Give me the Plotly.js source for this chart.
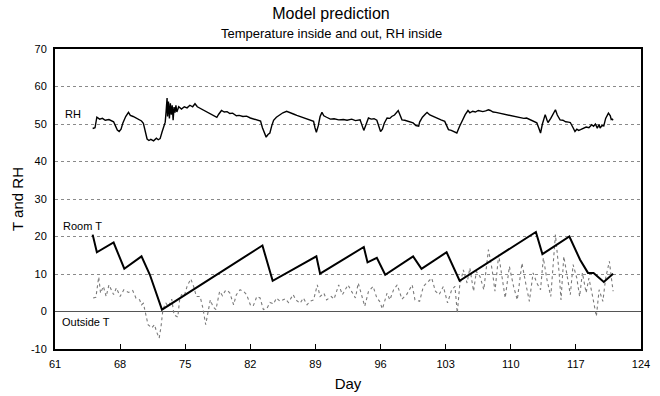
<!DOCTYPE html>
<html>
<head>
<meta charset="utf-8">
<script src="https://cdn.plot.ly/plotly-3.0.1.min.js"></script>
<style>html,body{margin:0;padding:0;background:#fff;}#chart{width:660px;height:396px;}</style>
</head>
<body>
<div id="chart"></div>
<script>
// ---- data ----
const rhDay = [65.05,65.3,65.5,65.8,66.1,66.4,66.8,67.1,67.3,67.5,67.7,67.9,68.1,68.3,68.6,68.9,69.1,69.4,69.7,70.0,70.3,70.5,70.7,70.9,71.1,71.3,71.6,71.9,72.1,72.3,72.5,72.7,72.85,72.95,73.05,73.1,73.2,73.3,73.4,73.5,73.6,73.7,73.8,73.9,74.0,74.1,74.3,74.6,74.9,75.2,75.5,75.8,76.05,76.3,76.6,76.9,77.2,77.5,77.8,78.1,78.4,78.6,78.9,79.2,79.5,79.8,80.1,80.5,80.8,81.2,81.6,82.0,82.4,82.8,83.1,83.3,83.5,83.7,83.9,84.1,84.3,84.5,84.8,85.1,85.5,85.9,86.3,86.7,87.0,87.3,87.7,88.1,88.5,88.8,88.95,89.1,89.3,89.5,89.7,89.9,90.2,90.6,91.0,91.5,92.0,92.4,92.9,93.3,93.8,94.0,94.2,94.4,94.7,95.0,95.3,95.6,95.8,96.0,96.2,96.4,96.7,97.0,97.2,97.5,97.9,98.1,98.3,98.6,99.0,99.5,99.8,100.1,100.2,100.5,100.8,101.0,101.3,101.7,102.1,102.5,102.9,103.1,103.3,103.6,103.9,104.2,104.5,104.8,105.1,105.4,105.6,105.9,106.2,106.5,106.7,107.0,107.3,107.6,107.8,108.1,108.4,108.8,109.2,109.6,110.0,110.3,110.7,111.1,111.4,111.7,112.0,112.4,112.8,113.0,113.2,113.4,113.7,113.9,114.0,114.3,114.6,114.8,115.0,115.3,115.6,115.9,116.2,116.4,116.7,116.9,117.1,117.3,117.5,117.8,118.1,118.4,118.7,118.9,119.1,119.3,119.5,119.6,119.8,120.0,120.2,120.5,120.7,120.8,120.9,121.0];
const rhVal = [48.8,49.0,51.8,51.3,51.5,51.0,51.2,50.9,50.6,49.5,48.4,48.0,48.6,50.3,52.0,53.1,52.3,52.0,51.6,51.2,50.8,50.2,47.6,46.0,45.6,45.9,45.5,46.2,45.8,46.1,47.8,49.5,50.5,53.5,56.9,52.0,56.0,51.5,55.5,52.5,55.0,51.0,54.5,53.0,55.0,53.2,54.6,54.0,54.6,54.3,55.0,54.6,55.4,54.6,54.2,53.6,53.2,52.8,52.4,52.0,51.8,52.6,53.6,53.2,53.3,52.8,52.9,52.2,52.3,52.0,52.1,51.6,51.3,51.0,50.8,49.0,47.6,46.5,47.2,47.6,49.5,51.0,51.8,52.4,53.0,53.4,53.1,52.6,52.3,52.0,51.6,51.4,51.0,50.7,49.0,47.8,49.5,52.0,53.1,52.2,51.8,51.3,51.4,51.1,51.2,51.0,51.3,50.9,51.1,49.8,48.3,49.6,51.6,51.3,51.4,51.0,49.5,48.0,48.6,50.2,51.6,51.5,52.0,52.4,53.6,52.2,51.1,51.0,50.7,50.3,49.6,49.4,50.5,51.8,52.6,53.1,52.4,51.9,51.6,51.1,50.7,49.6,48.5,48.3,48.0,47.6,49.4,51.0,52.5,53.6,53.0,53.4,53.2,53.6,53.4,53.3,53.5,53.8,53.6,53.2,53.1,52.9,52.6,52.5,52.2,52.2,51.9,51.8,51.5,51.6,51.2,50.8,50.3,49.0,47.6,50.0,52.5,51.0,50.4,51.5,52.8,53.8,52.4,51.1,51.0,50.6,50.5,50.4,49.0,48.0,48.6,48.3,48.5,48.8,49.2,49.0,49.8,49.4,50.0,48.9,49.9,48.9,49.6,49.5,51.5,52.9,52.2,51.2,51.3,51.0];

const roomDay = [65.05,65.5,67.3,68.45,70.3,71.2,72.5,83.3,84.4,89.1,89.5,94.2,94.6,95.6,96.5,99.5,100.4,103.1,104.5,112.7,113.4,116.3,117.45,118.3,118.9,120.0,121.0];
const roomVal = [20.5,15.8,18.4,11.4,14.7,9.8,0.5,17.6,8.2,14.7,10.1,17.2,13.1,14.3,9.8,14.7,11.4,15.8,8.2,21.2,15.3,20.0,13.8,10.3,10.3,7.9,10.1];

const outDay = [65.1,65.4,65.7,65.9,66.2,66.5,66.8,67.3,67.6,68.0,68.4,68.9,69.35,69.7,70.1,70.3,70.5,70.8,71.0,71.4,71.7,71.9,72.2,72.4,72.6,72.9,73.2,73.55,73.8,74.2,74.4,74.6,74.9,75.2,75.6,75.9,76.2,76.6,76.9,77.2,77.5,77.7,78.0,78.3,78.7,79.0,79.3,79.5,79.8,80.2,80.5,80.9,81.3,81.6,82.0,82.3,82.7,83.05,83.4,83.8,84.1,84.5,84.8,85.2,85.75,86.1,86.6,86.9,87.35,87.7,88.1,88.4,88.8,89.2,89.5,89.9,90.2,90.7,91.0,91.5,91.9,92.2,92.5,92.9,93.3,93.6,94.0,94.3,94.7,95.2,95.6,95.9,96.2,96.7,97.0,97.4,97.8,98.3,98.8,99.4,99.7,100.2,100.6,101.1,101.5,101.9,102.3,102.75,103.2,103.65,104.0,104.25,104.5,104.9,105.3,105.6,106.0,106.3,106.7,107.1,107.6,108.0,108.3,108.7,109.0,109.4,109.85,110.3,110.7,111.2,111.6,112.0,112.4,112.8,113.2,113.5,113.9,114.3,114.8,115.2,115.4,115.7,116.1,116.4,116.7,117.1,117.4,117.7,118.1,118.4,118.8,119.2,119.5,119.9,120.2,120.6,120.8,121.0];
const outVal = [3.6,3.8,9.2,4.9,6.7,4.0,7.1,4.5,6.3,4.0,5.8,5.1,5.6,3.6,3.1,1.8,2.2,-1.3,-3.5,-4.4,-3.5,-5.3,-7.1,-4.0,0.5,2.3,1.3,3.3,-0.9,-1.5,3.1,4.5,4.2,6.7,8.7,6.7,4.0,4.0,0.9,-3.5,0.5,3.1,1.2,0.5,5.4,4.2,5.5,5.7,4.9,1.8,4.5,5.8,5.3,4.5,1.8,1.4,4.0,3.6,0.5,0.9,2.4,2.0,3.6,2.7,3.4,2.4,4.5,3.1,2.2,3.6,1.8,2.7,3.1,7.1,4.0,4.9,3.1,4.0,3.3,7.1,4.5,5.8,7.1,5.3,3.6,7.6,4.0,1.4,5.3,6.7,3.6,2.7,0.7,4.9,3.1,5.8,7.1,3.3,4.5,7.1,3.1,2.7,6.7,8.0,8.9,5.4,4.5,6.7,2.3,5.8,6.7,-0.4,6.7,11.1,7.6,11.6,5.4,10.7,9.3,5.8,16.5,11.1,5.4,15.1,9.6,3.6,12.0,6.7,3.1,12.9,7.6,2.7,10.3,7.6,5.8,14.3,8.4,4.0,20.5,10.3,3.1,14.7,8.9,4.5,12.5,8.9,4.0,10.3,5.0,8.9,4.0,-1.3,5.8,2.7,8.9,13.4,9.3,5.4];

const xTickVals = [61,68,75,82,89,96,103,110,117,124];
const yTickVals = [-10,0,10,20,30,40,50,60,70];
const seriesLabels = ["RH","Room T","Outside T"];
const labelDay = [61.9,61.65,61.55];
const labelVal = [52.6,22.7,-2.9];

const FONT = '"Liberation Sans", Arial, sans-serif';

const traces = [
  {x: outDay, y: outVal, type:'scatter', mode:'lines', name:'Outside T',
   line:{color:'#7a7a7a', width:1.1, dash:'dot'}, hoverinfo:'skip'},
  {x: rhDay, y: rhVal, type:'scatter', mode:'lines', name:'RH',
   line:{color:'#000', width:1.4}, hoverinfo:'skip'},
  {x: roomDay, y: roomVal, type:'scatter', mode:'lines', name:'Room T',
   line:{color:'#000', width:2}, hoverinfo:'skip'}
];

const annotations = seriesLabels.map((t,i)=>({
  x: labelDay[i], y: labelVal[i], xref:'x', yref:'y', text:t, showarrow:false,
  xanchor:'left', yanchor:'middle', font:{family:FONT, size:11, color:'#000'}
}));
annotations.push({
  x: (331-55)/586, y: 1 + (49-33)/300, xref:'paper', yref:'paper', text:'Temperature inside and out, RH inside',
  showarrow:false, xanchor:'center', yanchor:'middle', font:{family:FONT, size:13, color:'#000'}
});

const layout = {
  width:660, height:396,
  margin:{l:55, r:19, t:49, b:47},
  paper_bgcolor:'#fff', plot_bgcolor:'#fff',
  showlegend:false,
  font:{family:FONT, size:11, color:'#000'},
  title:{text:'Model prediction', x:0.5015, xref:'container', y:0.967, yref:'container',
         xanchor:'center', yanchor:'middle', font:{family:FONT, size:16, color:'#000'}},
  xaxis:{range:[61,124], tickvals:xTickVals, ticktext:xTickVals.map(String),
         ticks:'inside', ticklen:5, tickwidth:1, tickcolor:'#000', ticklabelstandoff:4,
         showline:true, mirror:true, linecolor:'#000', linewidth:2,
         showgrid:false, zeroline:false,
         tickfont:{family:FONT, size:11, color:'#000'},
         title:{text:'Day', font:{family:FONT, size:15, color:'#000'}, standoff:9}},
  yaxis:{range:[-10,70], tickvals:yTickVals, ticktext:yTickVals.map(String),
         ticks:'', ticklabelstandoff:4,
         showline:true, mirror:true, linecolor:'#000', linewidth:2,
         showgrid:true, gridcolor:'#8a8a8a', gridwidth:1, griddash:'dot',
         zeroline:true, zerolinecolor:'#555', zerolinewidth:1.5,
         tickfont:{family:FONT, size:11, color:'#000'},
         title:{text:'T and RH', font:{family:FONT, size:15, color:'#000'}, standoff:4}},
  annotations: annotations
};

Plotly.newPlot('chart', traces, layout, {staticPlot:true, displayModeBar:false});
</script>
</body>
</html>
